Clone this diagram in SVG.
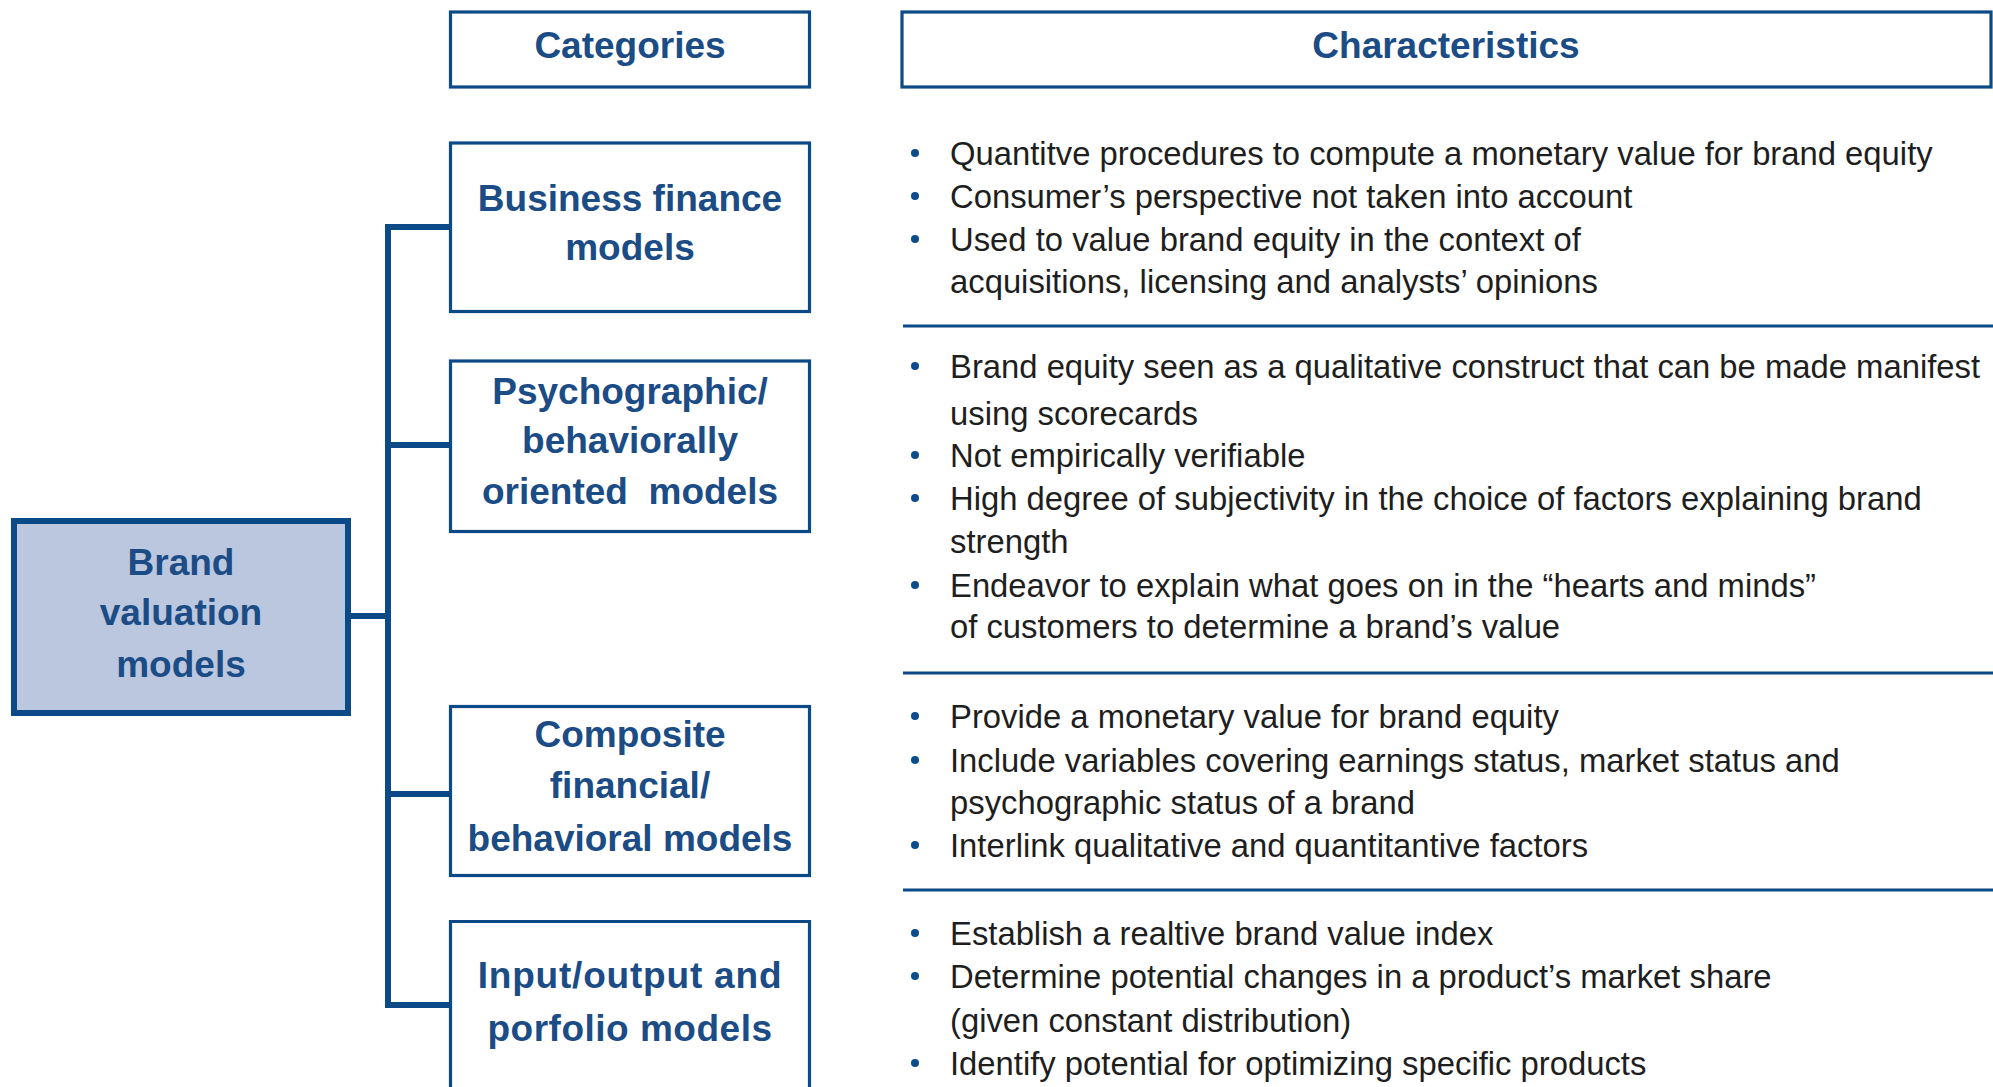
<svg xmlns="http://www.w3.org/2000/svg" width="1993" height="1087" viewBox="0 0 1993 1087">
<style>
.box{fill:#ffffff;stroke:#0b4a86;stroke-width:3.2}
.main{fill:#bac7df;stroke:#0b4a86;stroke-width:6}
.lbl{font-family:"Liberation Sans",Arial,sans-serif;font-weight:bold;font-size:37px;fill:#1b4c85;text-anchor:middle}
.txt{font-family:"Liberation Sans",Arial,sans-serif;font-size:32.8px;fill:#1e1e1e}
.conn{fill:none;stroke:#0b4a86;stroke-width:6;stroke-linejoin:miter}
.sep{stroke:#0b4a86;stroke-width:3}
.bul{fill:#0d4b8a}
</style>
<rect width="1993" height="1087" fill="#ffffff"/>

<g id="connectors">
<path class="conn" d="M450,227 H388 V1005 H450"/>
<path class="conn" d="M388,445 H450"/>
<path class="conn" d="M351,616 H388"/>
<path class="conn" d="M388,794 H450"/>
</g>

<g id="header-categories">
<rect class="box" x="450.5" y="12" width="359" height="75"/>
<text class="lbl" x="630" y="58">Categories</text>
</g>
<g id="header-characteristics">
<rect class="box" x="902" y="12" width="1089" height="75"/>
<text class="lbl" x="1446" y="58">Characteristics</text>
</g>

<g id="brand-valuation-models">
<rect class="main" x="14" y="521" width="334" height="192"/>
<text class="lbl" x="181" y="575">Brand</text>
<text class="lbl" x="181" y="625">valuation</text>
<text class="lbl" x="181" y="677">models</text>
</g>

<g id="business-finance">
<rect class="box" x="450.5" y="143" width="359" height="168.5"/>
<text class="lbl" x="630" y="211">Business finance</text>
<text class="lbl" x="630" y="260">models</text>
</g>

<g id="psychographic">
<rect class="box" x="450.5" y="361" width="359" height="170.5"/>
<text class="lbl" x="630" y="404">Psychographic/</text>
<text class="lbl" x="630" y="453">behaviorally</text>
<text class="lbl" x="630" y="504" xml:space="preserve">oriented  models</text>
</g>

<g id="composite">
<rect class="box" x="450.5" y="706.5" width="359" height="169"/>
<text class="lbl" x="630" y="747">Composite</text>
<text class="lbl" x="630" y="798">financial/</text>
<text class="lbl" x="630" y="851">behavioral models</text>
</g>

<g id="input-output">
<path class="box" d="M450.5,1095 V921.5 H809.5 V1095"/>
<text class="lbl" x="630" y="988" letter-spacing="0.8">Input/output and</text>
<text class="lbl" x="630" y="1041" letter-spacing="0.5">porfolio models</text>
</g>

<g id="characteristics-business">
<circle class="bul" cx="915" cy="153" r="4"/>
<text class="txt" x="950" y="165">Quantitve procedures to compute a monetary value for brand equity</text>
<circle class="bul" cx="915" cy="196" r="4"/>
<text class="txt" x="950" y="208">Consumer’s perspective not taken into account</text>
<circle class="bul" cx="915" cy="239" r="4"/>
<text class="txt" x="950" y="251">Used to value brand equity in the context of</text>
<text class="txt" x="950" y="293">acquisitions, licensing and analysts’ opinions</text>
</g>
<line class="sep" x1="903" y1="326" x2="1993" y2="326"/>

<g id="characteristics-psychographic">
<circle class="bul" cx="915" cy="366" r="4"/>
<text class="txt" x="950" y="378">Brand equity seen as a qualitative construct that can be made manifest</text>
<text class="txt" x="950" y="425">using scorecards</text>
<circle class="bul" cx="915" cy="455" r="4"/>
<text class="txt" x="950" y="467">Not empirically verifiable</text>
<circle class="bul" cx="915" cy="498" r="4"/>
<text class="txt" x="950" y="510">High degree of subjectivity in the choice of factors explaining brand</text>
<text class="txt" x="950" y="553">strength</text>
<circle class="bul" cx="915" cy="585" r="4"/>
<text class="txt" x="950" y="597">Endeavor to explain what goes on in the “hearts and minds”</text>
<text class="txt" x="950" y="638">of customers to determine a brand’s value</text>
</g>
<line class="sep" x1="903" y1="673" x2="1993" y2="673"/>

<g id="characteristics-composite">
<circle class="bul" cx="915" cy="716" r="4"/>
<text class="txt" x="950" y="728">Provide a monetary value for brand equity</text>
<circle class="bul" cx="915" cy="760" r="4"/>
<text class="txt" x="950" y="772">Include variables covering earnings status, market status and</text>
<text class="txt" x="950" y="814">psychographic status of a brand</text>
<circle class="bul" cx="915" cy="845" r="4"/>
<text class="txt" x="950" y="857">Interlink qualitative and quantitantive factors</text>
</g>
<line class="sep" x1="903" y1="890" x2="1993" y2="890"/>

<g id="characteristics-input-output">
<circle class="bul" cx="915" cy="933" r="4"/>
<text class="txt" x="950" y="945">Establish a realtive brand value index</text>
<circle class="bul" cx="915" cy="976" r="4"/>
<text class="txt" x="950" y="988">Determine potential changes in a product’s market share</text>
<text class="txt" x="950" y="1032">(given constant distribution)</text>
<circle class="bul" cx="915" cy="1063" r="4"/>
<text class="txt" x="950" y="1075">Identify potential for optimizing specific products</text>
</g>
</svg>
